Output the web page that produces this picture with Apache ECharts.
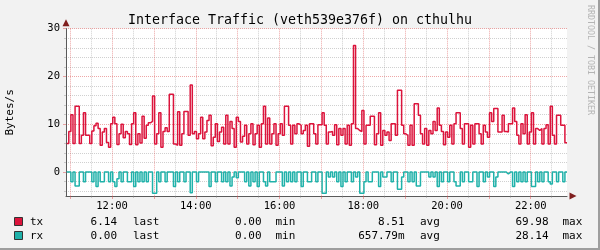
<!DOCTYPE html>
<html>
<head>
<meta charset="utf-8">
<script src="https://cdn.jsdelivr.net/npm/echarts@6/dist/echarts.min.js"></script>
<style>
html,body{margin:0;padding:0;background:#f2f2f2;}
#wrap{position:relative;width:600px;height:250px;overflow:hidden;}
#c{position:absolute;left:0;top:0;width:600px;height:250px;}
#frame{position:absolute;left:0;top:0;width:600px;height:250px;box-sizing:border-box;border-right:2px solid #9e9e9e;border-bottom:2px solid #9e9e9e;pointer-events:none;}
</style>
</head>
<body>
<div id="wrap"><div id="c"></div><div id="frame"></div></div>
<script>
// ---------------- data ----------------
const chartTitle = 'Interface Traffic (veth539e376f) on cthulhu';
const yAxisTitle = 'Bytes/s';
const watermarkText = 'RRDTOOL / TOBI OETIKER';
const seriesNames = ['tx', 'rx'];
// sample times: minutes since midnight, first sample and spacing
const startMinute = 655;
const stepMinutes = 3;
// tx (Bytes/s), one value per 3-minute step
const txValues = [
  6.0, 8.5, 12.0, 6.0, 13.8, 13.8, 6.0, 7.7, 12.4, 7.7,
  7.7, 6.0, 8.6, 9.7, 10.2, 9.1, 5.6, 8.4, 9.1, 6.2,
  5.2, 10.1, 11.5, 10.1, 5.8, 8.0, 10.0, 7.2, 8.5, 8.0,
  5.8, 10.1, 12.4, 5.7, 8.0, 6.1, 11.7, 7.1, 9.8, 10.3,
  10.6, 15.9, 5.9, 8.0, 12.4, 5.2, 8.5, 9.3, 8.5, 16.3,
  16.3, 5.9, 5.6, 12.6, 5.6, 8.0, 12.7, 12.7, 7.7, 18.2,
  8.0, 8.5, 7.0, 8.0, 11.5, 7.0, 8.4, 10.8, 11.9, 5.5,
  7.3, 10.1, 6.4, 8.4, 9.4, 5.9, 11.9, 5.9, 10.6, 9.1,
  5.2, 11.5, 10.6, 6.3, 7.5, 9.8, 5.9, 8.0, 10.1, 5.7,
  8.0, 9.8, 5.2, 10.1, 13.8, 5.9, 11.3, 5.9, 8.0, 10.1,
  5.6, 8.0, 10.1, 7.7, 13.8, 13.8, 9.8, 5.9, 9.8, 8.0,
  10.1, 9.8, 8.0, 8.7, 9.8, 5.4, 10.1, 10.1, 8.0, 5.9,
  9.9, 9.9, 12.4, 9.8, 5.9, 8.4, 8.5, 7.7, 9.9, 5.7,
  9.1, 7.7, 9.1, 5.9, 9.8, 5.6, 10.1, 26.5, 9.1, 8.7,
  8.5, 12.9, 5.9, 9.8, 9.8, 11.7, 11.7, 5.7, 8.0, 12.4,
  5.6, 8.7, 7.7, 8.4, 6.6, 10.1, 10.1, 7.7, 17.1, 17.1,
  9.8, 8.0, 7.7, 5.6, 9.8, 5.6, 14.3, 14.3, 11.9, 8.0,
  5.9, 9.1, 5.6, 8.7, 8.0, 10.6, 8.7, 13.4, 9.8, 8.5,
  5.7, 8.4, 7.3, 9.8, 5.9, 10.1, 12.4, 12.4, 9.1, 5.9,
  10.1, 10.1, 5.2, 9.8, 5.9, 10.1, 10.1, 8.0, 5.9, 9.8,
  8.4, 7.3, 12.4, 10.6, 13.3, 13.3, 8.4, 8.4, 11.9, 8.5,
  8.4, 10.1, 10.1, 13.4, 10.6, 7.7, 5.9, 10.1, 8.0, 12.0,
  5.9, 8.4, 12.4, 5.9, 9.1, 8.7, 9.1, 5.9, 9.1, 9.9,
  5.9, 13.8, 7.7, 5.9, 11.9, 11.9, 9.8, 9.8, 6.14
];
// rx (Bytes/s), same steps; drawn mirrored below zero as in the original graph
const rxValues = [
  0, 0, 2.0, 0, 2.9, 2.9, 0, 0, 2.0, 0,
  0, 0, 2.0, 0, 3.0, 0, 2.0, 2.0, 0, 0,
  2.0, 0, 2.0, 3.0, 1.4, 0, 2.0, 0, 0, 2.0,
  2.0, 0, 3.0, 0, 2.0, 0, 2.0, 0, 2.0, 0,
  0, 4.4, 4.4, 0, 2.0, 0, 0, 2.0, 0, 0,
  0, 3.0, 0, 2.0, 0, 0, 2.0, 0, 0, 4.3,
  0, 0, 2.0, 0, 0, 0, 0, 0, 3.0, 0,
  0, 2.0, 0, 0, 2.0, 0, 2.0, 0, 2.9, 1.0,
  0, 1.2, 0, 0, 0, 2.0, 0, 2.9, 0, 2.0,
  0, 3.0, 0, 0, 2.0, 2.9, 0, 2.0, 2.0, 2.0,
  0, 0, 0, 2.9, 0, 2.0, 0, 2.0, 0, 2.0,
  0, 0, 3.0, 0, 0, 2.0, 2.0, 0, 0, 2.0,
  0, 0, 4.4, 4.4, 0, 1.0, 0, 1.0, 0, 2.0,
  0, 3.0, 0, 2.0, 0, 0, 2.0, 0, 1.0, 0,
  4.4, 4.4, 2.0, 0, 2.0, 2.0, 0, 0, 0, 3.0,
  0, 1.0, 1.0, 0, 0, 2.0, 0, 0, 3.6, 3.6,
  1.0, 0, 0, 2.0, 0, 2.0, 0, 2.9, 2.9, 0,
  0, 0, 0, 1.0, 0, 1.0, 0, 3.0, 0, 2.0,
  0, 0, 2.0, 0, 0, 2.0, 2.9, 2.9, 0, 2.0,
  0, 0, 2.0, 2.0, 0, 0, 3.0, 0, 0, 2.0,
  0, 1.0, 0, 0, 3.0, 1.0, 0, 0, 0, 0,
  0.4, 0, 0, 3.0, 0, 2.0, 0, 2.0, 0, 2.0,
  0, 0, 3.0, 3.0, 0, 2.0, 0, 2.0, 0, 0,
  2.0, 2.5, 0, 0, 2.0, 0, 0, 2.0, 0
];
// axis ranges and ticks
const xMin = 654, xMax = 1372;
const hourTicks = [660, 720, 780, 840, 900, 960, 1020, 1080, 1140, 1200, 1260, 1320];
const halfHourTicks = [690, 750, 810, 870, 930, 990, 1050, 1110, 1170, 1230, 1290, 1350];
const xLabelTicks = [720, 840, 960, 1080, 1200, 1320];
const yMin = -5, yMax = 30;
const yMajorTicks = [0, 10, 20, 30];
const yMinorTicks = [-4, -2, 2, 4, 6, 8, 12, 14, 16, 18, 22, 24, 26, 28];
// legend statistics
const statNames = ['last', 'min', 'avg', 'max'];
const txStats = ['6.14', '0.00', '8.51', '69.98'];
const rxStats = ['0.00', '0.00', '657.79m', '28.14'];

// ---------------- style ----------------
const FONT = "'DejaVu Sans Mono', monospace";
const colors = ['#dc143c', '#20b2aa'];
const minorGrid = 'rgba(143,143,143,0.42)';
const majorGrid = 'rgba(222,79,79,0.5)';
const axisColor = '#5a5a5a';
const arrowColor = '#801f1f';

function hhmm(m) {
  const h = Math.floor(m / 60), mm = Math.round(m % 60);
  return String(h).padStart(2, '0') + ':' + String(mm).padStart(2, '0');
}
function toSeries(vals, sign) {
  const d = vals.map((v, i) => [startMinute + i * stepMinutes, sign * v]);
  d.push([startMinute + vals.length * stepMinutes, sign * vals[vals.length - 1]]);
  return d;
}

const grid = { left: 66, top: 28.7, width: 501, height: 167.3, show: true, backgroundColor: '#ffffff', borderWidth: 0, outerBoundsMode: 'none' };

const xBase = { type: 'value', min: xMin, max: xMax, position: 'bottom', gridIndex: 0 };
const yBase = { type: 'value', min: yMin, max: yMax, position: 'left', gridIndex: 0 };

const xAxes = [
  Object.assign({}, xBase, {
    axisLine: { show: false, onZero: false },
    axisTick: { show: true, customValues: halfHourTicks, length: 2, lineStyle: { color: minorGrid } },
    axisLabel: { show: false },
    splitLine: { show: true, lineStyle: { color: minorGrid, type: [1, 1], width: 1 } }
  }),
  Object.assign({}, xBase, {
    axisLine: { show: true, onZero: false, lineStyle: { color: axisColor, width: 1 } },
    axisTick: { show: true, customValues: hourTicks, length: 3, lineStyle: { color: majorGrid } },
    axisLabel: { show: true, customValues: xLabelTicks, formatter: v => hhmm(v), fontFamily: FONT, fontSize: 10.5, color: '#000', margin: 5 },
    splitLine: { show: true, lineStyle: { color: majorGrid, type: [1, 1], width: 1 } }
  }),
  Object.assign({}, xBase, {
    axisLine: { show: true, onZero: false, symbol: ['none', 'triangle'], symbolSize: [7, 7], symbolOffset: [0, 6], lineStyle: { color: arrowColor, width: 0 } },
    axisTick: { show: false }, axisLabel: { show: false }, splitLine: { show: false }
  })
];
const yAxes = [
  Object.assign({}, yBase, {
    axisLine: { show: false, onZero: false },
    axisTick: { show: true, customValues: yMinorTicks, length: 2, lineStyle: { color: minorGrid } },
    axisLabel: { show: false },
    splitLine: { show: true, lineStyle: { color: minorGrid, type: [1, 1], width: 1 } }
  }),
  Object.assign({}, yBase, {
    name: yAxisTitle, nameLocation: 'middle', nameRotate: 90, nameGap: 50,
    nameTextStyle: { fontFamily: FONT, fontSize: 11, color: '#000' },
    axisLine: { show: true, onZero: false, lineStyle: { color: axisColor, width: 1 } },
    axisTick: { show: true, customValues: yMajorTicks, length: 3, lineStyle: { color: majorGrid } },
    axisLabel: { show: true, customValues: yMajorTicks, fontFamily: FONT, fontSize: 10.5, color: '#000', margin: 6 },
    splitLine: { show: true, lineStyle: { color: majorGrid, type: [1, 1], width: 1 } }
  }),
  Object.assign({}, yBase, {
    axisLine: { show: true, onZero: false, symbol: ['none', 'triangle'], symbolSize: [7, 7], symbolOffset: [0, 6], lineStyle: { color: arrowColor, width: 0 } },
    axisTick: { show: false }, axisLabel: { show: false }, splitLine: { show: false }
  })
];

// legend rows drawn as graphic text
const rowY = [222, 236];
const statRight = [117, 261.5, 404.5, 548.5];
const statLeft = [133, 275.5, 420, 562.5];
const legendGraphics = [];
[txStats, rxStats].forEach((stats, i) => {
  legendGraphics.push({ type: 'rect', shape: { x: 14.5, y: rowY[i] - 4.5, width: 8, height: 8 },
    style: { fill: colors[i], stroke: '#333', lineWidth: 1 } });
  legendGraphics.push({ type: 'text', x: 30, y: rowY[i],
    style: { text: seriesNames[i], font: '11px ' + FONT, fill: '#000', align: 'left', verticalAlign: 'middle' } });
  stats.forEach((s, j) => {
    legendGraphics.push({ type: 'text', x: statRight[j], y: rowY[i],
      style: { text: s, font: '11px ' + FONT, fill: '#000', align: 'right', verticalAlign: 'middle' } });
    legendGraphics.push({ type: 'text', x: statLeft[j], y: rowY[i],
      style: { text: statNames[j], font: '11px ' + FONT, fill: '#000', align: 'left', verticalAlign: 'middle' } });
  });
});
legendGraphics.push({ type: 'text', x: 590.5, y: 60, rotation: -Math.PI / 2,
  style: { text: watermarkText, font: '8.3px ' + FONT, fill: '#b4b4b4', align: 'center', verticalAlign: 'middle' } });

const chart = echarts.init(document.getElementById('c'), null, { renderer: 'canvas', width: 600, height: 250 });
chart.setOption({
  animation: false,
  backgroundColor: '#f2f2f2',
  title: { text: chartTitle, left: 'center', top: 9,
    textStyle: { fontFamily: FONT, fontSize: 13.3, fontWeight: 'normal', color: '#000' } },
  grid: grid,
  xAxis: xAxes,
  yAxis: yAxes,
  series: [
    { name: seriesNames[0], type: 'line', step: 'end', xAxisIndex: 1, yAxisIndex: 1, symbol: 'none',
      data: toSeries(txValues, 1), lineStyle: { color: colors[0], width: 1.5 }, itemStyle: { color: colors[0] }, z: 3 },
    { name: seriesNames[1], type: 'line', step: 'end', xAxisIndex: 1, yAxisIndex: 1, symbol: 'none',
      data: toSeries(rxValues, -1), lineStyle: { color: colors[1], width: 1.5 }, itemStyle: { color: colors[1] }, z: 3 }
  ],
  graphic: legendGraphics
});
</script>
</body>
</html>
